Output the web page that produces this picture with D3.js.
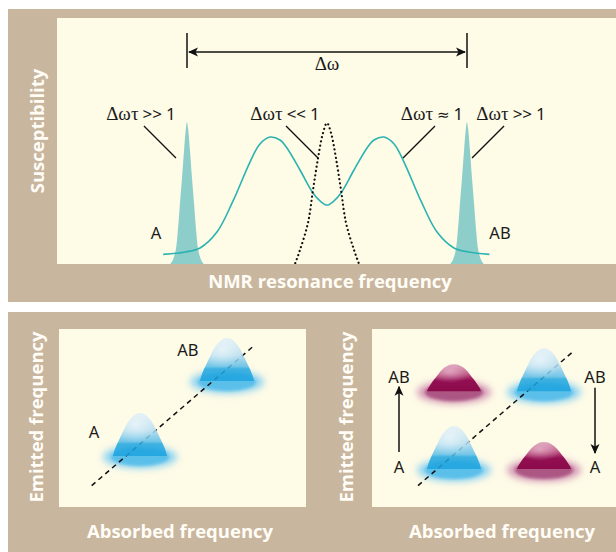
<!DOCTYPE html>
<html>
<head>
<meta charset="utf-8">
<script src="https://cdn.jsdelivr.net/npm/d3@7"></script>
<style>
html, body { margin: 0; padding: 0; background: #fff; }
svg { display: block; }
.title { font-family: "Open Sans", sans-serif; font-weight: 700; font-size: 18.5px; fill: #fffdf6; }
.lbl { font-family: "Noto Sans", sans-serif; font-size: 16.5px; fill: #1a1a1a; }
.note { font-family: "Noto Sans", sans-serif; font-size: 17px; fill: #1a1a1a; }
.greek { font-family: "Liberation Serif", serif; font-size: 19px; }
.sym { font-family: "DejaVu Sans", sans-serif; font-size: 15px; }
</style>
</head>
<body>
<div id="chart"></div>
<script>
var W = 616, H = 552;
var tan = "#c9b69f", cream = "#fefbe7", teal = "#2ab3b0", tealFill = "#8dcdca";

// ---------- top panel data ----------
var siteNames = ["A", "AB"];
var sitePos = [-1, 1];

// slow exchange: sharp lines at each site (offset from site, height)
var slowOffset = [-0.12, -0.1, -0.08, -0.065, -0.05, -0.036, -0.021, -0.008, 0, 0.008, 0.021, 0.036, 0.05, 0.065, 0.08, 0.1, 0.12];
var slowValue  = [0, 0.03, 0.1, 0.24, 0.43, 0.6, 0.8, 0.95, 1, 0.95, 0.8, 0.6, 0.43, 0.24, 0.1, 0.03, 0];

// intermediate exchange
var midFreq  = [-1.17, -1.01, -0.907, -0.786, -0.671, -0.55, -0.479, -0.407, -0.336, -0.286, -0.193, -0.1, -0.05, 0, 0.05, 0.1, 0.193, 0.286, 0.336, 0.407, 0.479, 0.55, 0.671, 0.786, 0.907, 1.01, 1.16];
var midValue = [0.068, 0.085, 0.113, 0.225, 0.444, 0.718, 0.845, 0.894, 0.873, 0.817, 0.662, 0.5, 0.444, 0.415, 0.444, 0.5, 0.662, 0.817, 0.873, 0.894, 0.845, 0.718, 0.444, 0.225, 0.113, 0.085, 0.068];

// fast exchange
var fastFreq  = [-0.25, -0.229, -0.193, -0.136, -0.1, -0.064, -0.029, 0, 0.029, 0.064, 0.1, 0.136, 0.193, 0.229, 0.25];
var fastValue = [-0.05, 0, 0.099, 0.289, 0.521, 0.746, 0.922, 0.993, 0.922, 0.746, 0.521, 0.289, 0.099, 0, -0.05];

var regimeGreek = ["\u0394\u03c9\u03c4", "\u0394\u03c9\u03c4", "\u0394\u03c9\u03c4", "\u0394\u03c9\u03c4"];
var regimeOp    = [">>", "<<", "\u2248", ">>"];
var regimeAt    = [-1.079, -0.064, 0.543, 1.036];   // where the leader touches the curve
var regimeSide  = [-1, -1, 1, 1];
var regimeShift = [-3, -1, -3, 7];

// ---------- bottom panels data ----------
var stateNames = ["A", "AB"];
var stateFreq = [0.3, 0.75];
var leftAbsorbed = [0, 1], leftEmitted = [0, 1], leftAmp = [1, 1];
var rightAbsorbed = [0, 1, 0, 1], rightEmitted = [0, 1, 1, 0], rightAmp = [1, 1, 0.63, 0.63];
var moundX = [-1, -0.95, -0.85, -0.72, -0.58, -0.44, -0.3, -0.15, 0, 0.15, 0.3, 0.44, 0.58, 0.72, 0.85, 0.95, 1];
var moundY = [0, 0.12, 0.28, 0.45, 0.63, 0.79, 0.9, 0.975, 1, 0.975, 0.9, 0.79, 0.63, 0.45, 0.28, 0.12, 0];

var svg = d3.select("#chart").append("svg").attr("width", W).attr("height", H);
var defs = svg.append("defs");

function arrowMarker(id) {
    defs.append("marker").attr("id", id)
        .attr("viewBox", "0 0 10 10").attr("refX", 9).attr("refY", 5)
        .attr("markerWidth", 10).attr("markerHeight", 10).attr("markerUnits", "userSpaceOnUse")
        .attr("orient", "auto-start-reverse")
        .append("path").attr("d", "M0,0.5 L10,5 L0,9.5 L2.5,5 Z").attr("fill", "#111");
}
arrowMarker("arr");

defs.append("clipPath").attr("id", "topClip").append("rect")
    .attr("x", 57).attr("y", 18).attr("width", W - 57).attr("height", 246);

var blur1 = defs.append("filter").attr("id", "blur").attr("x", "-30%").attr("y", "-80%").attr("width", "160%").attr("height", "260%");
blur1.append("feGaussianBlur").attr("stdDeviation", 3.5);
var blur2 = defs.append("filter").attr("id", "blurS").attr("x", "-20%").attr("y", "-60%").attr("width", "140%").attr("height", "220%");
blur2.append("feGaussianBlur").attr("stdDeviation", 1.5);

function vGrad(id, stops) {
    var g = defs.append("linearGradient").attr("id", id).attr("x1", 0).attr("y1", 0).attr("x2", 0).attr("y2", 1);
    stops.forEach(function (s) { g.append("stop").attr("offset", s[0]).attr("stop-color", s[1]); });
}
vGrad("blueMound", [[0, "#d8ecf6"], [0.4, "#acd9ef"], [0.66, "#5cbde8"], [0.72, "#22a6df"], [1, "#1ca3de"]]);
vGrad("purpleMound", [[0, "#d9a0b9"], [0.35, "#b9527f"], [0.6, "#930f53"], [1, "#8a0a4a"]]);
function hiGrad(id, col, op) {
    var g = defs.append("radialGradient").attr("id", id).attr("cx", 0.42).attr("cy", 0.28).attr("r", 0.42);
    g.append("stop").attr("offset", 0).attr("stop-color", col).attr("stop-opacity", op);
    g.append("stop").attr("offset", 1).attr("stop-color", col).attr("stop-opacity", 0);
}
hiGrad("blueHi", "#ffffff", 0.55);
hiGrad("purpleHi", "#f4cddd", 0.6);

// ---------- top panel ----------
svg.append("rect").attr("x", 8).attr("y", 9).attr("width", W - 8).attr("height", 293).attr("fill", tan);
svg.append("rect").attr("x", 57).attr("y", 18).attr("width", W - 57).attr("height", 246).attr("fill", cream);

var x = d3.scaleLinear().domain([-1, 1]).range([187, 467]);
var y = d3.scaleLinear().domain([0, 1]).range([264, 122]);

var plot = svg.append("g").attr("clip-path", "url(#topClip)");

var slowArea = d3.area()
    .x(function (d) { return x(d.f); })
    .y0(y(0))
    .y1(function (d) { return y(d.v); })
    .curve(d3.curveCatmullRom.alpha(0.5));

sitePos.forEach(function (p) {
    var pts = slowOffset.map(function (o, i) { return {f: p + o, v: slowValue[i]}; });
    plot.append("path").attr("d", slowArea(pts)).attr("fill", tealFill);
});

var line = d3.line()
    .x(function (d) { return x(d.f); })
    .y(function (d) { return y(d.v); })
    .curve(d3.curveCatmullRom.alpha(0.5));

var midPts = midFreq.map(function (f, i) { return {f: f, v: midValue[i]}; });
plot.append("path").attr("d", line(midPts)).attr("fill", "none")
    .attr("stroke", teal).attr("stroke-width", 1.6);

var fastPts = fastFreq.map(function (f, i) { return {f: f, v: fastValue[i]}; });
plot.append("path").attr("d", line(fastPts)).attr("fill", "none")
    .attr("stroke", "#111").attr("stroke-width", 2.2)
    .attr("stroke-linecap", "round").attr("stroke-dasharray", "0.1 4.2");

// Δω bracket
[-1, 1].forEach(function (p) {
    svg.append("line").attr("x1", x(p)).attr("x2", x(p)).attr("y1", 33).attr("y2", 68)
        .attr("stroke", "#111").attr("stroke-width", 1.5);
});
svg.append("line").attr("x1", x(-1) + 2).attr("x2", x(1) - 2).attr("y1", 52).attr("y2", 52)
    .attr("stroke", "#111").attr("stroke-width", 1.5)
    .attr("marker-start", "url(#arr)").attr("marker-end", "url(#arr)");
svg.append("text").attr("class", "greek").attr("x", x(0)).attr("y", 70)
    .attr("text-anchor", "middle").attr("fill", "#1a1a1a").text("\u0394\u03c9");

// regime labels with leaders
regimeAt.forEach(function (f, i) {
    var ex = x(f), ey = y(0.746);
    var sx = ex + regimeSide[i] * 32;
    svg.append("line").attr("x1", sx).attr("y1", 126).attr("x2", ex).attr("y2", ey)
        .attr("stroke", "#111").attr("stroke-width", 1.3);
    var t = svg.append("text").attr("class", "note").attr("x", sx + regimeShift[i])
        .attr("y", 120).attr("text-anchor", "middle");
    t.append("tspan").attr("class", "greek").text(regimeGreek[i]);
    t.append("tspan").attr("class", regimeOp[i] === "\u2248" ? "sym" : null).attr("dx", 4).text(regimeOp[i]);
    t.append("tspan").attr("dx", 4).text("1");
});

// site labels
svg.append("text").attr("class", "lbl").attr("x", x(sitePos[0]) - 31).attr("y", 239)
    .attr("text-anchor", "middle").text(siteNames[0]);
svg.append("text").attr("class", "lbl").attr("x", x(sitePos[1]) + 33).attr("y", 239)
    .attr("text-anchor", "middle").text(siteNames[1]);

svg.append("text").attr("class", "title").attr("transform", "translate(44,131) rotate(-90)")
    .attr("text-anchor", "middle").text("Susceptibility");
svg.append("text").attr("class", "title").attr("x", 330).attr("y", 288)
    .attr("text-anchor", "middle").text("NMR resonance frequency");

// ---------- bottom panels ----------
svg.append("rect").attr("x", 8).attr("y", 312).attr("width", W - 8).attr("height", H - 312).attr("fill", tan);
svg.append("rect").attr("x", 59).attr("y", 329).attr("width", 247).attr("height", 178).attr("fill", cream);
svg.append("rect").attr("x", 372).attr("y", 329).attr("width", W - 372).attr("height", 178).attr("fill", cream);

var xL = d3.scaleLinear().domain([0, 1]).range([82, 275.3]);
var yL = d3.scaleLinear().domain([0, 1]).range([494, 327.3]);
var xR = d3.scaleLinear().domain([0, 1]).range([394, 594]);
var yR = d3.scaleLinear().domain([0, 1]).range([506.4, 333.5]);

var moundArea = d3.area()
    .x(function (d) { return d.x; })
    .y0(function (d) { return d.b; })
    .y1(function (d) { return d.y; })
    .curve(d3.curveCatmullRom.alpha(0.5));

function drawPanel(xs, ys, absorbed, emitted, amp, diag, drop) {
    var g = svg.append("g");
    var peaks = absorbed.map(function (a, i) {
        return {px: xs(stateFreq[a]), py: ys(stateFreq[emitted[i]]) + drop, amp: amp[i], diag: a === emitted[i]};
    });
    // glow under each peak
    peaks.forEach(function (p) {
        var outer = p.diag ? "#8fd3f0" : "#d49ab6";
        var inner = p.diag ? "#55bde9" : "#a8507f";
        g.append("ellipse").attr("cx", p.px).attr("cy", p.py + 1).attr("rx", 37).attr("ry", 11.5)
            .attr("fill", outer).attr("filter", "url(#blur)");
        g.append("ellipse").attr("cx", p.px).attr("cy", p.py + 1).attr("rx", 29).attr("ry", 9)
            .attr("fill", inner).attr("opacity", 0.9).attr("filter", "url(#blurS)");
    });
    g.append("line")
        .attr("x1", xs(diag[0])).attr("y1", ys(diag[0]))
        .attr("x2", xs(diag[1])).attr("y2", ys(diag[1]))
        .attr("stroke", "#111").attr("stroke-width", 1.5).attr("stroke-dasharray", "5 4");
    peaks.forEach(function (p) {
        var h = 43 * p.amp;
        var pts = moundX.map(function (mx, i) { return {x: p.px + 27 * mx, y: p.py - h * moundY[i], b: p.py}; });
        g.append("path").attr("d", moundArea(pts))
            .attr("fill", p.diag ? "url(#blueMound)" : "url(#purpleMound)").attr("opacity", p.diag ? 0.85 : 1);
        g.append("path").attr("d", moundArea(pts))
            .attr("fill", p.diag ? "url(#blueHi)" : "url(#purpleHi)");
    });
    return g;
}

drawPanel(xL, yL, leftAbsorbed, leftEmitted, leftAmp, [0.05, 0.88], 12);
drawPanel(xR, yR, rightAbsorbed, rightEmitted, rightAmp, [0.12, 0.9], 14.5);

// left panel labels
svg.append("text").attr("class", "lbl").attr("x", xL(stateFreq[1]) - 39).attr("y", yL(stateFreq[1]) - 13)
    .attr("text-anchor", "middle").text(stateNames[1]);
svg.append("text").attr("class", "lbl").attr("x", xL(stateFreq[0]) - 46).attr("y", yL(stateFreq[0]) - 6)
    .attr("text-anchor", "middle").text(stateNames[0]);

// right panel exchange arrows
[[0.025, 0, 1], [1.005, 1, 0]].forEach(function (a) {
    var ax = xR(a[0]);
    var yFrom = a[1] === 0 ? yR(stateFreq[0]) - 2.5 : yR(stateFreq[1]) + 11;
    var yTo = a[2] === 1 ? yR(stateFreq[1]) + 10 : yR(stateFreq[0]) - 1.5;
    svg.append("line").attr("x1", ax).attr("x2", ax).attr("y1", yFrom).attr("y2", yTo)
        .attr("stroke", "#111").attr("stroke-width", 1.5).attr("marker-end", "url(#arr)");
    svg.append("text").attr("class", "lbl").attr("x", ax).attr("y", yR(stateFreq[1]) + 6)
        .attr("text-anchor", "middle").text(stateNames[1]);
    svg.append("text").attr("class", "lbl").attr("x", ax).attr("y", yR(stateFreq[0]) + 18)
        .attr("text-anchor", "middle").text(stateNames[0]);
});

svg.append("text").attr("class", "title").attr("transform", "translate(43,417) rotate(-90)")
    .attr("text-anchor", "middle").text("Emitted frequency");
svg.append("text").attr("class", "title").attr("transform", "translate(353,417) rotate(-90)")
    .attr("text-anchor", "middle").text("Emitted frequency");
svg.append("text").attr("class", "title").attr("x", 180).attr("y", 538)
    .attr("text-anchor", "middle").text("Absorbed frequency");
svg.append("text").attr("class", "title").attr("x", 502).attr("y", 538)
    .attr("text-anchor", "middle").text("Absorbed frequency");
</script>
</body>
</html>
